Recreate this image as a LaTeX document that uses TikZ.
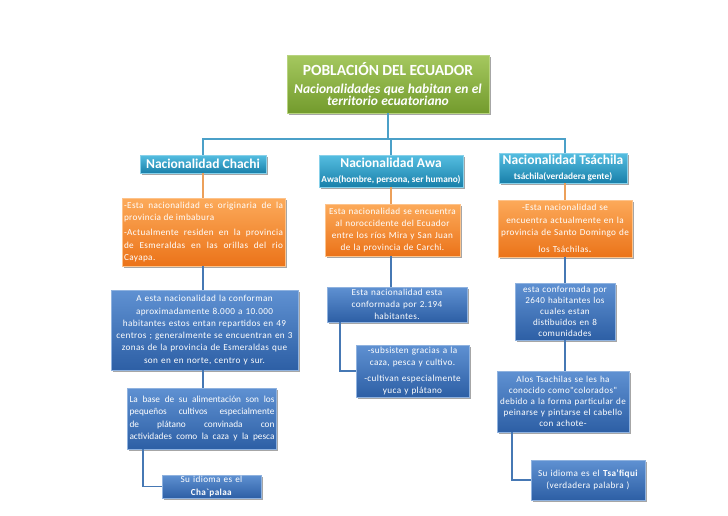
\documentclass[tikz,border=0pt]{standalone}
\usepackage{fontspec}
\setmainfont{Carlito}
\newfontfamily\spacedfont[LetterSpace=4]{Carlito}
\usetikzlibrary{shadows}
\hyphenpenalty=10000
\exhyphenpenalty=10000
\definecolor{busblue}{RGB}{75,160,200}
\definecolor{lineorange}{RGB}{236,160,90}
\definecolor{lineblue}{RGB}{70,120,180}
\definecolor{gtop}{RGB}{165,200,95}
\definecolor{gbot}{RGB}{115,155,45}
\definecolor{atop}{RGB}{85,190,225}
\definecolor{abot}{RGB}{25,128,170}
\definecolor{otop}{RGB}{252,170,90}
\definecolor{obot}{RGB}{235,115,25}
\definecolor{btop}{RGB}{95,145,210}
\definecolor{bbot}{RGB}{45,95,165}
\tikzset{
  boxbase/.style={rectangle, inner sep=2pt, text=white, anchor=center,
    drop shadow={shadow xshift=1.5pt, shadow yshift=-2pt, opacity=0.35, fill=black}},
  greenbox/.style={boxbase, top color=gtop, bottom color=gbot, draw=gtop!80!white, line width=0.4pt},
  aquabox/.style={boxbase, top color=atop, bottom color=abot, draw=atop!70!white, line width=0.4pt, inner ysep=1pt},
  orangebox/.style={boxbase, top color=otop, bottom color=obot, draw=otop!70!white, line width=0.4pt},
  bluebox/.style={boxbase, top color=btop, bottom color=bbot, draw=btop!70!white, line width=0.4pt},
  busline/.style={draw=busblue, line width=1.3pt},
  oline/.style={draw=lineorange, line width=1.3pt},
  bline/.style={draw=lineblue, line width=1.3pt},
  bodytext/.style={font=\spacedfont\fontsize{9.2}{12.3}\selectfont},
  tighttext/.style={font=\spacedfont\fontsize{9.1}{11.1}\selectfont},
  plaintext/.style={font=\fontsize{9.3}{12.3}\selectfont},
  headtext/.style={font=\fontsize{13.5}{15}\selectfont\bfseries}
}
\begin{document}
\begin{tikzpicture}[x=1pt,y=-1pt]
\useasboundingbox (0,0) rectangle (728,515);

% top
\node[greenbox, minimum width=200pt, minimum height=58pt, text width=198pt, align=center, inner ysep=0pt] (top) at (388,84)
  {{\fontsize{15.5}{16}\selectfont\bfseries POBLACIÓN DEL ECUADOR}\\[1pt]
   {\fontsize{13.5}{16.5}\selectfont\bfseries\itshape Nacionalidades que habitan en el\\ territorio ecuatoriano}};

% headers
\node[aquabox, headtext, minimum width=126pt, minimum height=18pt] (chachiH) at (203,164) {Nacionalidad Chachi};
\node[aquabox, minimum width=144pt, minimum height=32pt, align=center] (awaH) at (391,171)
  {{\fontsize{13.5}{15}\selectfont\bfseries Nacionalidad Awa}\\[3pt]{\fontsize{9.3}{10}\selectfont\bfseries Awa(hombre, persona, ser humano)}};
\node[aquabox, minimum width=128pt, minimum height=30pt, align=center] (tsaH) at (563,168)
  {{\fontsize{13.5}{15}\selectfont\bfseries Nacionalidad Tsáchila}\\[3pt]{\fontsize{9.3}{10}\selectfont\bfseries tsáchila(verdadera gente)}};

% orange boxes
\node[orangebox, bodytext, minimum width=162pt, minimum height=68pt, text width=159pt, align=justify] (chachiO) at (203.5,232)
  {-Esta nacionalidad es originaria de la\linebreak provincia de imbabura\par\vspace{3pt}
   -Actualmente residen en la provincia\linebreak de Esmeraldas en las orillas del rio\linebreak Cayapa.};
\node[orangebox, bodytext, minimum width=133pt, minimum height=52pt, text width=131pt, align=center] (awaO) at (392.5,230)
  {Esta nacionalidad se encuentra\\ al noroccidente del Ecuador\\ entre los ríos Mira y San Juan\\ de la provincia de Carchi.};
\node[orangebox, bodytext, minimum width=132pt, minimum height=57pt, text width=130pt, align=center] (tsaO) at (565,228.5)
  {-Esta nacionalidad se\\ encuentra actualmente en la\\ provincia de Santo Domingo de\\[5pt] los Tsáchilas{\large.}};

% blue boxes - Chachi
\node[bluebox, bodytext, minimum width=185pt, minimum height=80pt, text width=183pt, align=center] (chachiB1) at (204.5,330)
  {A esta nacionalidad la conforman\\ aproximadamente 8.000 a 10.000\\ habitantes estos entan repartidos en 49\\ centros ; generalmente se encuentran en 3\\ zonas de la provincia de Esmeraldas que\\ son en en norte, centro y sur.};
\node[bluebox, plaintext, minimum width=148pt, minimum height=61pt, text width=145pt, align=justify] (chachiB2) at (202,418.5)
  {\parfillskip=0pt La base de su alimentación son los\linebreak pequeños cultivos especialmente\linebreak de plátano convinada con\linebreak actividades como la caza y la pesca\par};
\node[bluebox, bodytext, minimum width=97pt, minimum height=23pt, text width=95pt, align=center, inner ysep=1pt] (chachiB3) at (211.5,486.5)
  {Su idioma es el\\ \textbf{Cha`palaa}};

% blue boxes - Awa
\node[bluebox, bodytext, minimum width=140pt, minimum height=35pt, text width=130pt, align=center, inner ysep=1pt] (awaB1) at (397,304.5)
  {Esta nacionalidad esta\\ conformada por 2.194\\ habitantes.};
\node[bluebox, bodytext, minimum width=111pt, minimum height=52pt, text width=109pt, align=center] (awaB2) at (412.5,371)
  {-subsisten gracias a la\\ caza, pesca y cultivo.\par\vspace{3pt}-cultivan especialmente\\ yuca y plátano};

% blue boxes - Tsachila
\node[bluebox, tighttext, minimum width=98pt, minimum height=57pt, text width=96pt, align=center, inner ysep=1pt] (tsaB1) at (565,311.5)
  {esta conformada por\\ 2640 habitantes los\\ cuales estan\\ distibuidos en 8\\ comunidades};
\node[bluebox, tighttext, minimum width=130pt, minimum height=61pt, text width=128pt, align=center, inner ysep=1pt] (tsaB2) at (563,401.5)
  {Alos Tsachilas se les ha\\ conocido como"colorados"\\ debido a la forma particular de\\ peinarse y pintarse el cabello\\ con achote-};
\node[bluebox, bodytext, minimum width=112pt, minimum height=40pt, text width=110pt, align=center] (tsaB3) at (588,480)
  {Su idioma es el \textbf{Tsa’fiqui}\\ (verdadera palabra )};

% connectors
\coordinate (bus) at (388,139);
\draw[busline] (top.south) -- (bus);
\draw[busline] (chachiH.north) |- (bus);
\draw[busline] (tsaO.north |- tsaH.north) |- (bus);
\draw[busline] (awaH.north) -- (awaH.north |- bus);

\draw[oline] (chachiH.south) -- (chachiH.south |- chachiO.north);
\draw[oline] (awaH.south) -- (awaH.south |- awaO.north);
\draw[oline] (tsaO.north |- tsaH.south) -- (tsaO.north);

\draw[bline] (chachiO.south -| chachiH.south) -- (chachiH.south |- chachiB1.north);
\draw[bline] (chachiB1.south -| chachiH.south) -- (chachiH.south |- chachiB2.north);
\draw[bline] ([xshift=-59pt]chachiB2.south) |- (chachiB3.west);

\draw[bline] (awaO.south -| awaH.south) -- (awaH.south |- awaB1.north);
\draw[bline] ([xshift=-57pt]awaB1.south) |- (awaB2.west);

\draw[bline] (tsaO.south) -- (tsaO.south |- tsaB1.north);
\draw[bline] (tsaB1.south) -- (tsaB1.south |- tsaB2.north);
\draw[bline] ([xshift=-51pt]tsaB2.south) |- (tsaB3.west);
\end{tikzpicture}
\end{document}
